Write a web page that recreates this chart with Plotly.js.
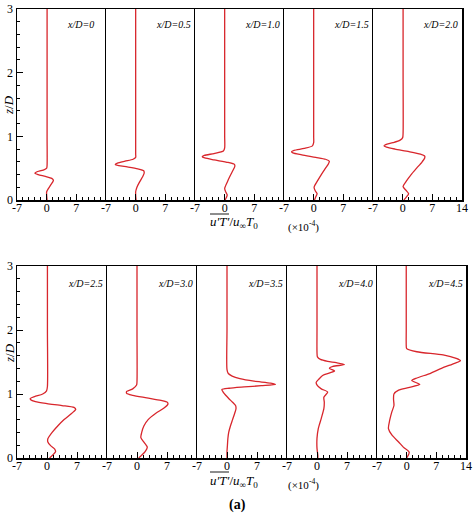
<!DOCTYPE html>
<html>
<head>
<meta charset="utf-8">
<script src="https://cdn.plot.ly/plotly-3.0.1.min.js"></script>
<style>html,body{margin:0;padding:0;background:#fff;}</style>
</head>
<body>
<div id="chart" style="width:474px;height:517px;"></div>
<script>
// ---- data ----
const panelLabels = ['x/D=0','x/D=0.5','x/D=1.0','x/D=1.5','x/D=2.0','x/D=2.5','x/D=3.0','x/D=3.5','x/D=4.0','x/D=4.5'];
const xTickVals = [-7, 0, 7];
const xTickValsLast = [-7, 0, 7, 14];
const yTickVals = [0, 1, 2, 3];

const z_00 = [0, 0.07, 0.13, 0.18, 0.23, 0.28, 0.31, 0.34, 0.37, 0.40, 0.42, 0.44, 0.47, 0.5, 0.55, 1, 2, 3];
const v_00 = [0.1, 0.0, 0.0, 0.4, 0.9, 1.4, 1.6, 1.2, -0.3, -2.0, -2.8, -2.4, -0.8, 0.0, 0.1, 0.1, 0.1, 0.1];

const z_05 = [0, 0.08, 0.13, 0.2, 0.28, 0.36, 0.42, 0.46, 0.49, 0.52, 0.54, 0.56, 0.58, 0.61, 0.64, 0.67, 0.72, 1, 2, 3];
const v_05 = [0.1, 0.0, 0.0, 0.3, 0.9, 1.6, 2.0, 1.9, 0.5, -2.0, -4.0, -4.8, -4.3, -2.5, -0.6, 0.0, 0.0, 0.0, 0.0, 0.0];

const z_10 = [0, 0.04, 0.08, 0.12, 0.18, 0.28, 0.38, 0.47, 0.53, 0.56, 0.59, 0.63, 0.66, 0.68, 0.70, 0.73, 0.77, 0.82, 1, 2, 3];
const v_10 = [0.1, 0.4, 0.6, 0.3, 0.0, 0.6, 1.3, 2.0, 2.4, 2.3, 0.8, -2.5, -4.7, -5.3, -4.8, -2.5, -0.3, 0.0, 0.0, 0.0, 0.0];

const z_15 = [0, 0.05, 0.1, 0.14, 0.2, 0.3, 0.4, 0.5, 0.57, 0.61, 0.64, 0.67, 0.71, 0.74, 0.76, 0.78, 0.81, 0.85, 0.9, 1, 2, 3];
const v_15 = [0.2, 0.5, 0.8, 0.4, 0.1, 0.9, 1.8, 2.8, 3.5, 3.7, 2.8, 0.5, -2.8, -4.9, -5.2, -4.6, -2.2, -0.3, 0.0, 0.0, 0.0, 0.0];

const z_20 = [0, 0.05, 0.1, 0.15, 0.21, 0.3, 0.4, 0.5, 0.6, 0.66, 0.69, 0.72, 0.76, 0.8, 0.83, 0.85, 0.87, 0.9, 0.94, 0.98, 1.05, 2, 3];
const v_20 = [0.3, 0.9, 1.4, 0.8, 0.1, 0.9, 2.0, 3.3, 4.6, 5.2, 5.2, 4.2, 1.5, -1.8, -3.8, -4.4, -4.0, -2.3, -0.6, 0.0, 0.1, 0.1, 0.1];

const z_25 = [0, 0.05, 0.1, 0.14, 0.19, 0.25, 0.3, 0.4, 0.5, 0.6, 0.7, 0.76, 0.79, 0.82, 0.85, 0.88, 0.91, 0.93, 0.96, 1.0, 1.05, 1.12, 2, 3];
const v_25 = [0.6, 1.4, 2.0, 1.8, 0.9, 0.2, 0.2, 1.2, 2.5, 4.0, 5.8, 6.7, 6.3, 3.5, 0.0, -2.7, -3.8, -3.9, -2.9, -1.0, -0.1, 0.1, 0.1, 0.1];

const z_30 = [0, 0.05, 0.1, 0.17, 0.24, 0.32, 0.4, 0.5, 0.6, 0.7, 0.78, 0.84, 0.87, 0.9, 0.94, 0.98, 1.01, 1.04, 1.08, 1.14, 1.2, 2, 3];
const v_30 = [0.4, 1.2, 1.9, 2.4, 1.7, 0.9, 1.1, 1.6, 2.6, 4.4, 6.3, 7.2, 7.1, 5.6, 2.3, -1.0, -2.4, -2.4, -1.0, -0.1, 0.0, 0.0, 0.0];

const z_35 = [0, 0.1, 0.2, 0.3, 0.4, 0.5, 0.6, 0.7, 0.77, 0.82, 0.87, 0.93, 0.98, 1.03, 1.07, 1.09, 1.11, 1.13, 1.15, 1.17, 1.2, 1.24, 1.28, 1.32, 1.38, 2, 3];
const v_35 = [0.0, 0.0, 0.1, 0.2, 0.4, 0.8, 1.3, 1.8, 2.1, 2.0, 1.3, 0.4, -0.3, -0.9, -1.2, 0.5, 4.0, 8.0, 11.3, 10.2, 6.3, 3.0, 1.2, 0.3, 0.0, 0.0, 0.0];

const z_40 = [0, 0.04, 0.15, 0.31, 0.46, 0.62, 0.77, 0.87, 0.95, 1.03, 1.08, 1.13, 1.18, 1.23, 1.29, 1.33, 1.36, 1.40, 1.43, 1.46, 1.49, 1.51, 1.54, 1.58, 1.65, 2, 3];
const v_40 = [0.2, 0.2, 0.0, 0.0, 0.3, 1.0, 1.6, 1.7, 1.6, 2.5, 1.0, 0.1, -0.2, 0.4, 1.3, 3.0, 4.1, 2.9, 3.7, 6.4, 4.5, 2.5, 0.8, 0.1, 0.0, 0.0, 0.0];

const z_45 = [0, 0.09, 0.17, 0.25, 0.36, 0.46, 0.59, 0.72, 0.82, 0.92, 1.0, 1.06, 1.10, 1.15, 1.21, 1.25, 1.32, 1.40, 1.48, 1.52, 1.555, 1.61, 1.66, 1.71, 1.76, 2, 3];
const v_45 = [0.0, 0.6, -0.8, -1.9, -3.5, -4.3, -4.0, -3.5, -3.0, -3.1, -3.0, -1.9, 0.4, 3.1, 1.2, 2.4, 5.5, 8.2, 11.3, 12.7, 11.7, 8.6, 2.4, 0.0, -0.1, -0.1, -0.1];

const profilesZ = [z_00, z_05, z_10, z_15, z_20, z_25, z_30, z_35, z_40, z_45];
const profilesV = [v_00, v_05, v_10, v_15, v_20, v_25, v_30, v_35, v_40, v_45];

// ---- layout geometry (pixels) ----
const W = 474, H = 517;
const edgesRow = [
  [17, 106, 195, 284, 373, 462],
  [17, 107, 197, 287, 377, 466]
];
const rowTopBottom = [[9, 200], [266, 458]];
const FONT = 'Liberation Serif';
const RED = '#d8262c';

const data = [];
const layout = {
  width: W, height: H,
  margin: {l: 0, r: 0, t: 0, b: 0},
  paper_bgcolor: '#fff', plot_bgcolor: 'rgba(0,0,0,0)',
  showlegend: false,
  font: {family: FONT, size: 12, color: '#000'},
  annotations: [],
  shapes: []
};

for (let i = 0; i < 10; i++) {
  const row = i < 5 ? 0 : 1;
  const col = i % 5;
  const sfx = i === 0 ? '' : String(i + 1);
  const e = edgesRow[row];
  const tb = rowTopBottom[row];
  data.push({
    x: profilesV[i], y: profilesZ[i],
    xaxis: 'x' + sfx, yaxis: 'y' + sfx,
    type: 'scatter', mode: 'lines',
    line: {color: RED, width: 1.3, shape: 'spline', smoothing: 0.7},
    hoverinfo: 'skip'
  });
  const tv = col === 4 ? xTickValsLast : xTickVals;
  layout['xaxis' + sfx] = {
    domain: [e[col] / W, e[col + 1] / W],
    anchor: 'y' + sfx,
    range: [-7, 14],
    tickmode: 'array',
    tickvals: tv,
    ticktext: tv.map(String),
    ticks: 'inside', ticklen: 6, tickwidth: 1, tickcolor: '#000',
    minor: {tickmode: 'linear', tick0: -7, dtick: 1.4, ticks: 'inside', ticklen: 3, tickwidth: 1, tickcolor: '#000', showgrid: false},
    tickfont: {family: FONT, size: 12, color: '#000'},
    ticklabelstandoff: -4,
    showline: true, linecolor: '#000', linewidth: 1.5, mirror: true,
    showgrid: false, zeroline: false, fixedrange: true
  };
  const yax = {
    domain: [1 - tb[1] / H, 1 - tb[0] / H],
    anchor: 'x' + sfx,
    range: [0, 3],
    showline: true, linecolor: '#000', linewidth: 1.5, mirror: col === 4,
    showgrid: false, zeroline: false, fixedrange: true
  };
  if (col === 0) {
    Object.assign(yax, {
      tickmode: 'array', tickvals: yTickVals, ticktext: yTickVals.map(String),
      ticks: 'inside', ticklen: 6, tickwidth: 1, tickcolor: '#000',
      minor: {tickmode: 'linear', tick0: 0, dtick: 0.2, ticks: 'inside', ticklen: 3, tickwidth: 1, tickcolor: '#000', showgrid: false},
      tickfont: {family: FONT, size: 12, color: '#000'},
      ticklabelstandoff: 0
    });
  } else {
    Object.assign(yax, {ticks: '', showticklabels: false});
  }
  layout['yaxis' + sfx] = yax;

  layout.annotations.push({
    xref: 'paper', yref: 'paper',
    x: (e[col] + (row ? 49 : 47.5)) / W,
    y: 1 - (row ? 283 : 25) / H,
    xanchor: 'left', yanchor: 'middle', showarrow: false,
    text: '<i>' + panelLabels[i] + '</i>',
    font: {family: FONT, size: 10, color: '#000'}
  });
}

// row titles: [z/D centre y, title centre y, unit centre y, overline y]
[[105, 223, 226, 214], [353, 481, 484, 472]].forEach(function (r) {
  layout.annotations.push({
    xref: 'paper', yref: 'paper', x: 9 / W, y: 1 - r[0] / H,
    xanchor: 'center', yanchor: 'middle', showarrow: false, textangle: -90,
    text: '<i>z</i>/<i>D</i>',
    font: {family: FONT, size: 13, color: '#000'}
  });
  layout.annotations.push({
    xref: 'paper', yref: 'paper', x: 208 / W, y: 1 - r[1] / H,
    xanchor: 'left', yanchor: 'middle', showarrow: false,
    text: '<i>u\u2032T\u2032</i>/<i>u</i><sub>\u221e</sub><i>T</i><sub>0</sub>',
    font: {family: FONT, size: 13, color: '#000'}
  });
  layout.annotations.push({
    xref: 'paper', yref: 'paper', x: 286 / W, y: 1 - r[2] / H,
    xanchor: 'left', yanchor: 'middle', showarrow: false,
    text: '(\u00d710<sup>-4</sup>)',
    font: {family: FONT, size: 11, color: '#000'}
  });
  layout.shapes.push({
    type: 'line', xref: 'paper', yref: 'paper',
    x0: 210 / W, x1: 229 / W, y0: 1 - r[3] / H, y1: 1 - r[3] / H,
    line: {color: '#000', width: 0.9}
  });
});

layout.annotations.push({
  xref: 'paper', yref: 'paper', x: 237 / W, y: 1 - 505 / H,
  xanchor: 'center', yanchor: 'middle', showarrow: false,
  text: '<b>(a)</b>',
  font: {family: FONT, size: 14, color: '#000'}
});

Plotly.newPlot('chart', data, layout, {displayModeBar: false, staticPlot: true});
</script>
</body>
</html>
